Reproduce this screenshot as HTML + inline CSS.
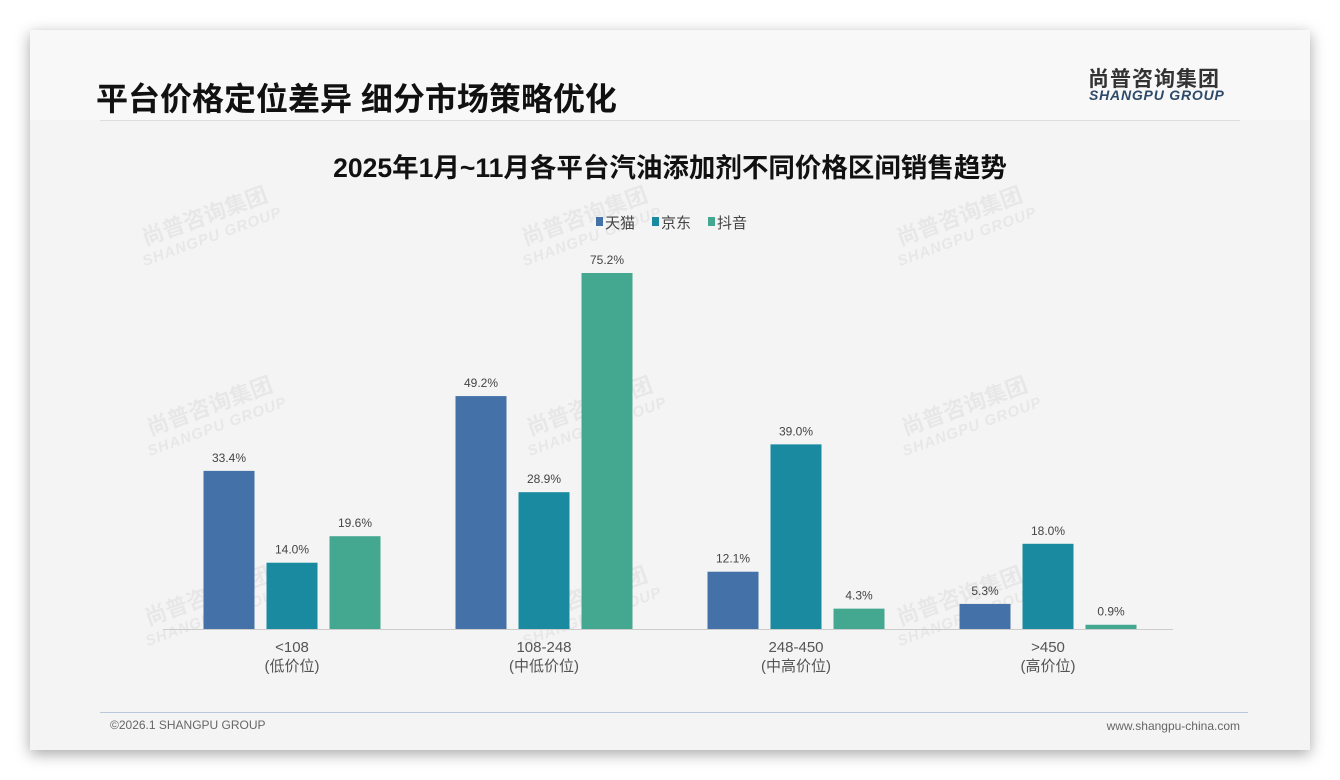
<!DOCTYPE html>
<html><head><meta charset="utf-8">
<style>
body{margin:0;width:1340px;height:780px;background:#fff;font-family:"Liberation Sans","Noto Sans CJK SC",sans-serif;position:relative;overflow:hidden}
#card{position:absolute;left:30px;top:30px;width:1280px;height:720px;background:#f4f4f4;box-shadow:0 4px 14px rgba(0,0,0,0.35)}
#hdr{position:absolute;left:0;top:0;width:1280px;height:90px;background:#f8f8f8}
.abs{position:absolute;white-space:nowrap}
.wm{position:absolute;color:rgba(0,0,0,0.05);font-weight:bold;transform:rotate(-20deg);font-size:22px;line-height:22px;text-align:center}
.wm span{display:block;font-size:15px;font-style:italic;letter-spacing:1px}
</style></head><body>
<div id="card">
<div id="hdr"></div>
<div class="abs" style="left:66px;top:44px;font-size:32px;font-weight:bold;color:#111">平台价格定位差异 细分市场策略优化</div>
<div class="abs" style="left:1058px;top:33px;font-size:21px;font-weight:bold;color:#333;letter-spacing:1px">尚普咨询集团</div>
<div class="abs" style="left:1059px;top:57px;font-size:14px;font-weight:bold;font-style:italic;color:#2e4a6a;letter-spacing:0.8px">SHANGPU GROUP</div>
<div class="abs" style="left:70px;top:90px;width:1140px;height:1px;background:#ddd"></div>
<div class="abs" style="left:70px;top:682px;width:1148px;height:1px;background:#b8c8d8"></div>
<div class="abs" style="left:80px;top:688px;font-size:12px;color:#666">©2026.1 SHANGPU GROUP</div>
<div class="abs" style="right:70px;top:689px;font-size:12px;color:#666">www.shangpu-china.com</div>
</div>
<div class="wm" style="left:135px;top:205px">尚普咨询集团<span>SHANGPU GROUP</span></div>
<div class="wm" style="left:515px;top:205px">尚普咨询集团<span>SHANGPU GROUP</span></div>
<div class="wm" style="left:890px;top:205px">尚普咨询集团<span>SHANGPU GROUP</span></div>
<div class="wm" style="left:140px;top:395px">尚普咨询集团<span>SHANGPU GROUP</span></div>
<div class="wm" style="left:520px;top:395px">尚普咨询集团<span>SHANGPU GROUP</span></div>
<div class="wm" style="left:895px;top:395px">尚普咨询集团<span>SHANGPU GROUP</span></div>
<div class="wm" style="left:138px;top:585px">尚普咨询集团<span>SHANGPU GROUP</span></div>
<div class="wm" style="left:515px;top:585px">尚普咨询集团<span>SHANGPU GROUP</span></div>
<div class="wm" style="left:890px;top:585px">尚普咨询集团<span>SHANGPU GROUP</span></div>
<svg id="chart" width="1340" height="780" style="position:absolute;left:0;top:0"></svg>
<script>
const categories=["<108","108-248","248-450",">450"];
const subLabels=["(低价位)","(中低价位)","(中高价位)","(高价位)"];
const seriesNames=["天猫","京东","抖音"];
const tmall=[33.4,49.2,12.1,5.3];
const jd=[14.0,28.9,39.0,18.0];
const douyin=[19.6,75.2,4.3,0.9];
const colors=["#4472a8","#1a8aa0","#43a88f"];
const series=[tmall,jd,douyin];
const NS="http://www.w3.org/2000/svg";
const svg=document.getElementById('chart');
const baseY=629, pxPer=356/75.2, x0=166, groupW=252, barW=51, barStep=63;
function yScale(v){return baseY-v*pxPer;}
function xCenter(i){return x0+groupW*(i+0.5);}
function mk(tag,attrs,txt){const e=document.createElementNS(NS,tag);for(const k in attrs)e.setAttribute(k,attrs[k]);if(txt!==undefined)e.textContent=txt;svg.appendChild(e);return e;}
const t=mk('text',{x:670,y:177,'text-anchor':'middle','font-size':26.5,'font-weight':'bold',fill:'#111'},"2025年1月~11月各平台汽油添加剂不同价格区间销售趋势");


const legX=[596,652,708];
seriesNames.forEach((n,s)=>{
  const r=mk('rect',{x:legX[s],y:217,width:7,height:9,fill:colors[s]});
  
  
  const lt=mk('text',{x:legX[s]+9,y:228,'font-size':15,fill:'#444'},n);
  
  
});
const ax=mk('line',{x1:163,y1:baseY+0.5,x2:1173,y2:baseY+0.5,stroke:'#ccc','stroke-width':1});


categories.forEach((c,i)=>{
  const cx=xCenter(i);
  series.forEach((arr,s)=>{
    const bx=cx+(s-1)*barStep-barW/2, v=arr[i];
    const b=mk('rect',{x:bx,y:yScale(v),width:barW,height:baseY-yScale(v),fill:colors[s]});
    
    
    const l=mk('text',{x:bx+barW/2,y:yScale(v)-9,'text-anchor':'middle','font-size':12,fill:'#444'},v.toFixed(1)+'%');
    
    
  });
  const a=mk('text',{x:cx,y:652,'text-anchor':'middle','font-size':15,fill:'#555'},c);
  
  
  const b2=mk('text',{x:cx,y:671,'text-anchor':'middle','font-size':15,fill:'#555'},subLabels[i]);
  
  
});
</script>
</body></html>
